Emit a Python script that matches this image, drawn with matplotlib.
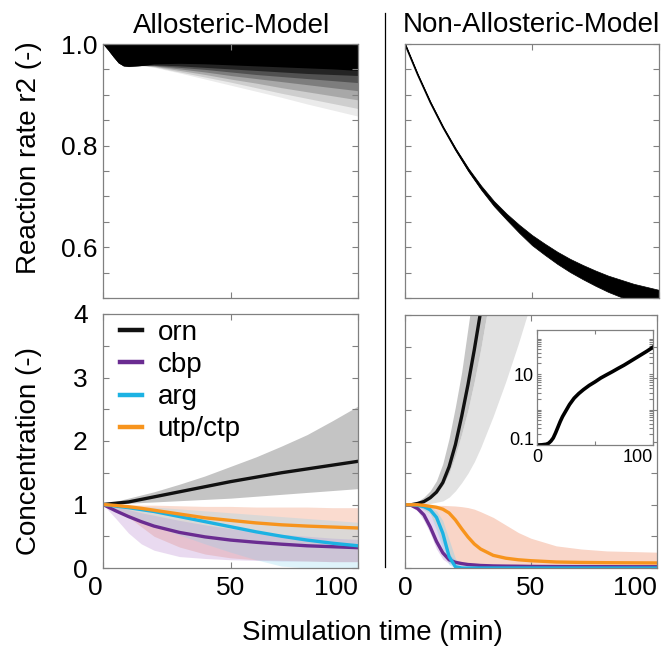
import matplotlib
matplotlib.use("Agg")
import matplotlib.pyplot as plt
from matplotlib.ticker import MultipleLocator, FixedLocator, NullFormatter

plt.rcParams['font.family'] = ['Liberation Sans', 'DejaVu Sans']

# ---------------- data ----------------
# Top-left: allosteric model reaction rate r2 ensemble (shade layers = lower envelopes; upper = 1.0)
t_tl = [0, 2, 4, 6, 8, 10, 13, 16, 20, 30, 40, 50, 60, 70, 80, 90, 100]
r2_allo_core = [1.0, 0.988, 0.975, 0.963, 0.957, 0.956, 0.957, 0.958, 0.961, 0.962, 0.961, 0.959, 0.957, 0.955, 0.953, 0.951, 0.948]
r2_allo_l1 = [1.0, 0.988, 0.975, 0.963, 0.957, 0.956, 0.957, 0.958, 0.959, 0.957, 0.954, 0.951, 0.948, 0.945, 0.942, 0.940, 0.938]
r2_allo_l2 = [1.0, 0.988, 0.975, 0.963, 0.957, 0.956, 0.957, 0.958, 0.958, 0.954, 0.950, 0.945, 0.940, 0.936, 0.932, 0.928, 0.924]
r2_allo_l3 = [1.0, 0.988, 0.975, 0.963, 0.957, 0.956, 0.957, 0.958, 0.957, 0.951, 0.945, 0.938, 0.932, 0.926, 0.920, 0.914, 0.908]
r2_allo_l4 = [1.0, 0.988, 0.975, 0.963, 0.957, 0.956, 0.957, 0.958, 0.956, 0.948, 0.940, 0.931, 0.923, 0.914, 0.906, 0.898, 0.890]
r2_allo_l5 = [1.0, 0.988, 0.975, 0.963, 0.957, 0.956, 0.957, 0.957, 0.955, 0.945, 0.935, 0.925, 0.914, 0.903, 0.893, 0.883, 0.873]
r2_allo_l6 = [1.0, 0.988, 0.975, 0.963, 0.957, 0.955, 0.956, 0.957, 0.954, 0.943, 0.931, 0.919, 0.907, 0.895, 0.882, 0.870, 0.858]
r2_allo_top = [1.0] * len(t_tl)

# Top-right: non-allosteric reaction rate r2 ensemble band
t_tr = [0, 5, 10, 15, 20, 25, 30, 35, 40, 45, 50, 55, 60, 65, 70, 75, 80, 85, 90, 95, 100]
r2_non_mid = [1.0, 0.94, 0.885, 0.836, 0.792, 0.752, 0.717, 0.686, 0.660, 0.636, 0.614, 0.596, 0.579, 0.564, 0.551, 0.539, 0.528, 0.519, 0.511, 0.504, 0.498]
r2_non_upper = [1.0, 0.94, 0.886, 0.837, 0.794, 0.755, 0.721, 0.691, 0.666, 0.644, 0.624, 0.607, 0.591, 0.577, 0.565, 0.554, 0.544, 0.536, 0.528, 0.522, 0.516]
r2_non_lower = [1.0, 0.94, 0.884, 0.835, 0.790, 0.749, 0.713, 0.681, 0.654, 0.628, 0.604, 0.585, 0.567, 0.551, 0.537, 0.524, 0.512, 0.502, 0.494, 0.486, 0.480]

# Bottom-left: allosteric concentrations
t_bl = [0, 5, 10, 15, 20, 30, 40, 50, 60, 70, 80, 90, 100]
orn_allo = [1.0, 1.02, 1.04, 1.08, 1.12, 1.20, 1.28, 1.36, 1.43, 1.50, 1.56, 1.62, 1.68]
orn_allo_hi = [1.0, 1.05, 1.10, 1.15, 1.20, 1.32, 1.45, 1.60, 1.75, 1.92, 2.10, 2.32, 2.55]
orn_allo_lo = [1.0, 1.01, 1.02, 1.03, 1.04, 1.06, 1.08, 1.10, 1.13, 1.16, 1.19, 1.22, 1.25]
cbp_allo = [1.0, 0.90, 0.81, 0.73, 0.66, 0.56, 0.49, 0.44, 0.405, 0.375, 0.35, 0.335, 0.32]
cbp_allo_hi = [1.0, 0.97, 0.92, 0.87, 0.83, 0.75, 0.68, 0.62, 0.57, 0.53, 0.50, 0.47, 0.45]
cbp_allo_lo = [1.0, 0.78, 0.55, 0.38, 0.28, 0.18, 0.15, 0.13, 0.12, 0.11, 0.11, 0.10, 0.10]
arg_allo = [1.0, 0.975, 0.95, 0.92, 0.89, 0.81, 0.73, 0.65, 0.57, 0.50, 0.44, 0.39, 0.35]
arg_allo_hi = [1.0, 0.99, 0.98, 0.97, 0.96, 0.93, 0.90, 0.87, 0.84, 0.81, 0.78, 0.75, 0.72]
arg_allo_lo = [1.0, 0.93, 0.85, 0.76, 0.67, 0.52, 0.38, 0.25, 0.13, 0.03, 0.0, 0.0, 0.0]
utp_allo = [1.0, 0.985, 0.965, 0.94, 0.91, 0.85, 0.79, 0.75, 0.71, 0.68, 0.66, 0.645, 0.63]
utp_allo_hi = [1.0, 1.0, 1.0, 0.99, 0.99, 0.98, 0.97, 0.97, 0.96, 0.96, 0.96, 0.95, 0.95]
utp_allo_lo = [1.0, 0.92, 0.80, 0.65, 0.50, 0.33, 0.22, 0.16, 0.13, 0.12, 0.11, 0.10, 0.10]

# Bottom-right: non-allosteric concentrations
t_br = [0, 2.5, 5, 7.5, 10, 12.5, 15, 17.5, 20, 22.5, 25, 27.5, 30, 35, 40, 45, 50, 60, 70, 80, 90, 100]
t_br_orn = [0, 2.5, 5, 7.5, 10, 12.5, 15, 17.5, 20, 22.5, 25, 27.5, 30, 32.5]
orn_non = [1.0, 1.0, 1.02, 1.05, 1.11, 1.20, 1.35, 1.60, 1.95, 2.40, 2.90, 3.45, 4.05, 4.70]
t_br_band = [0, 2.5, 5, 7.5, 10, 12.5, 15, 17.5, 20, 22.5, 25, 27.5, 30, 35, 40, 45, 50, 55]
orn_non_fast = [1.0, 1.01, 1.05, 1.12, 1.22, 1.38, 1.65, 2.05, 2.55, 3.10, 3.80, 4.50, 5.2, 6.5, 8.0, 9.0, 10.0, 11.0]
orn_non_mid = [1.0, 1.0, 1.02, 1.05, 1.10, 1.18, 1.30, 1.50, 1.78, 2.12, 2.50, 2.95, 3.45, 4.6, 6.0, 7.0, 8.0, 9.0]
orn_non_slow = [1.0, 1.0, 1.0, 1.01, 1.02, 1.04, 1.06, 1.12, 1.22, 1.35, 1.50, 1.68, 1.90, 2.40, 2.95, 3.55, 4.20, 5.0]
cbp_non = [1.0, 0.99, 0.94, 0.84, 0.65, 0.42, 0.24, 0.13, 0.09, 0.07, 0.055, 0.048, 0.04, 0.033, 0.03, 0.028, 0.025, 0.023, 0.022, 0.021, 0.02, 0.02]
cbp_non_hi = [1.0, 1.0, 0.98, 0.94, 0.84, 0.65, 0.42, 0.22, 0.12, 0.08, 0.065, 0.055, 0.05, 0.04, 0.035, 0.032, 0.03, 0.028, 0.026, 0.025, 0.024, 0.024]
cbp_non_lo = [1.0, 0.97, 0.90, 0.75, 0.55, 0.30, 0.14, 0.07, 0.05, 0.04, 0.035, 0.03, 0.028, 0.024, 0.022, 0.02, 0.018, 0.016, 0.015, 0.015, 0.015, 0.015]
arg_non = [1.0, 1.0, 0.99, 0.97, 0.92, 0.80, 0.55, 0.18, 0.02, 0.0, 0.0, 0.0, 0.0, 0.0, 0.0, 0.0, 0.0, 0.0, 0.0, 0.0, 0.0, 0.0]
arg_non_hi = [1.0, 1.0, 1.0, 0.99, 0.97, 0.90, 0.75, 0.45, 0.15, 0.04, 0.0, 0.0, 0.0, 0.0, 0.0, 0.0, 0.0, 0.0, 0.0, 0.0, 0.0, 0.0]
arg_non_lo = [1.0, 0.99, 0.96, 0.93, 0.85, 0.60, 0.30, 0.05, 0.0, 0.0, 0.0, 0.0, 0.0, 0.0, 0.0, 0.0, 0.0, 0.0, 0.0, 0.0, 0.0, 0.0]
utp_non = [1.0, 1.0, 1.0, 0.99, 0.975, 0.96, 0.93, 0.87, 0.76, 0.62, 0.49, 0.38, 0.30, 0.20, 0.155, 0.13, 0.115, 0.095, 0.088, 0.084, 0.082, 0.08]
utp_non_hi = [1.0, 1.0, 1.0, 1.0, 1.0, 0.99, 0.99, 0.985, 0.98, 0.97, 0.955, 0.93, 0.89, 0.80, 0.68, 0.56, 0.47, 0.35, 0.30, 0.27, 0.26, 0.25]
utp_non_lo = [1.0, 0.99, 0.97, 0.93, 0.85, 0.65, 0.40, 0.20, 0.10, 0.07, 0.05, 0.04, 0.035, 0.03, 0.028, 0.026, 0.025, 0.023, 0.022, 0.021, 0.02, 0.02]

# Inset: orn (log scale), non-allosteric
t_inset = [0, 4, 8, 10, 12, 14, 16, 18, 20, 22, 25, 28, 32, 36, 40, 45, 50, 55, 60, 65, 70, 75, 80, 85, 90, 95, 100]
orn_inset = [0.1, 0.101, 0.105, 0.112, 0.129, 0.158, 0.219, 0.316, 0.457, 0.631, 0.933, 1.38, 2.09, 2.82,
             3.63, 4.79, 6.03, 7.76, 9.55, 11.7, 14.5, 17.8, 22.4, 28.2, 35.5, 44.7, 57.5]

species = ['orn', 'cbp', 'arg', 'utp/ctp']
colors = {'orn': '#111111', 'cbp': '#6a2c91', 'arg': '#1cb2e3', 'utp/ctp': '#f7941d'}
band_colors = {'cbp': '#b887cf', 'arg': '#7fd0ee', 'utp/ctp': '#f2a283'}

x_ticks = [0, 50, 100]
x_ticklabels = ['0', '50', '100']
r2_ticks = [0.6, 0.8, 1.0]
r2_ticklabels = ['0.6', '0.8', '1.0']
conc_ticks = [0, 1, 2, 3, 4]
conc_ticklabels = ['0', '1', '2', '3', '4']
inset_yticks = [0.1, 1, 10, 100]
inset_yticklabels = ['0.1', '', '10', '']
inset_xticks = [0, 50, 100]
inset_xticklabels = ['0', '', '100']

# ---------------- figure ----------------
W, H = 670, 652
fig = plt.figure(figsize=(W / 100, H / 100), dpi=100)


def add_ax(x0, y0, x1, y1):
    return fig.add_axes([x0 / W, 1 - y1 / H, (x1 - x0) / W, (y1 - y0) / H])


GREY = '#808080'


def style(ax, size=19, length=4):
    for s in ax.spines.values():
        s.set_color(GREY)
        s.set_linewidth(0.9)
    ax.tick_params(which='both', direction='in', top=True, right=True,
                   color=GREY, length=length, width=0.8, labelsize=size)


ax_tl = add_ax(103, 44, 358, 298)
ax_tr = add_ax(405, 44, 659, 298)
ax_bl = add_ax(103, 314, 358, 568)
ax_br = add_ax(405, 315, 657, 568)

# top-left
for lower, a in [(r2_allo_l6, 0.08), (r2_allo_l5, 0.12), (r2_allo_l4, 0.18), (r2_allo_l3, 0.25),
                 (r2_allo_l2, 0.35), (r2_allo_l1, 0.55), (r2_allo_core, 1.0)]:
    ax_tl.fill_between(t_tl, lower, r2_allo_top, color='black', alpha=a, lw=0)

# top-right
ax_tr.fill_between(t_tr, r2_non_lower, r2_non_upper, color='black', lw=0.5)
ax_tr.plot(t_tr, r2_non_mid, color='black', lw=1.3)

for ax in (ax_tl, ax_tr):
    style(ax)
    ax.set_xlim(0, 100)
    ax.set_ylim(0.5, 1.0)
    ax.set_xticks(x_ticks)
    ax.set_xticklabels([])
    ax.yaxis.set_major_locator(FixedLocator(r2_ticks))
    ax.yaxis.set_minor_locator(MultipleLocator(0.05))
    ax.yaxis.set_minor_formatter(NullFormatter())
ax_tl.set_yticklabels(r2_ticklabels)
ax_tl.tick_params(axis='y', pad=4)
ax_tr.set_yticklabels([])

# bottom-left
ax_bl.fill_between(t_bl, orn_allo_lo, orn_allo_hi, color='#c4c4c4', lw=0)
ax_bl.fill_between(t_bl, utp_allo_lo, utp_allo_hi, color=band_colors['utp/ctp'], alpha=0.38, lw=0)
ax_bl.fill_between(t_bl, cbp_allo_lo, cbp_allo_hi, color=band_colors['cbp'], alpha=0.3, lw=0)
ax_bl.fill_between(t_bl, arg_allo_lo, arg_allo_hi, color=band_colors['arg'], alpha=0.25, lw=0)
lw = 2.4
ax_bl.plot(t_bl, orn_allo, color=colors['orn'], lw=lw, label=species[0])
ax_bl.plot(t_bl, cbp_allo, color=colors['cbp'], lw=lw, label=species[1])
ax_bl.plot(t_bl, arg_allo, color=colors['arg'], lw=lw, label=species[2])
ax_bl.plot(t_bl, utp_allo, color=colors['utp/ctp'], lw=lw, label=species[3])

# bottom-right
ax_br.fill_between(t_br_band, orn_non_mid, orn_non_slow, color='#e2e2e2', lw=0)
ax_br.fill_between(t_br_band, orn_non_fast, orn_non_mid, color='#c6c6c6', lw=0)
ax_br.fill_between(t_br, utp_non_lo, utp_non_hi, color=band_colors['utp/ctp'], alpha=0.45, lw=0)
ax_br.fill_between(t_br, cbp_non_lo, cbp_non_hi, color=band_colors['cbp'], alpha=0.35, lw=0)
ax_br.fill_between(t_br, arg_non_lo, arg_non_hi, color=band_colors['arg'], alpha=0.35, lw=0)
ax_br.plot(t_br_orn, orn_non, color=colors['orn'], lw=lw)
ax_br.plot(t_br, cbp_non, color=colors['cbp'], lw=lw)
ax_br.plot(t_br, arg_non, color=colors['arg'], lw=lw)
ax_br.plot(t_br, utp_non, color=colors['utp/ctp'], lw=lw)

for ax in (ax_bl, ax_br):
    style(ax)
    ax.set_xlim(0, 100)
    ax.set_ylim(0, 4)
    ax.yaxis.set_major_locator(FixedLocator(conc_ticks))
    ax.yaxis.set_minor_locator(MultipleLocator(0.5))
    ax.yaxis.set_minor_formatter(NullFormatter())
    ax.set_xticks(x_ticks)
    ax.set_xticklabels(x_ticklabels)
    ax.tick_params(axis='x', pad=6)
    labs = ax.get_xticklabels()
    labs[-1].set_horizontalalignment('right')
ax_bl.get_xticklabels()[0].set_horizontalalignment('right')
ax_bl.set_yticklabels(conc_ticklabels)
ax_bl.tick_params(axis='y', pad=11)
ax_br.set_yticklabels([])

leg = ax_bl.legend(loc='upper left', bbox_to_anchor=(120 / W, 1 - 320 / H),
                   bbox_transform=fig.transFigure, frameon=False, fontsize=20,
                   handlelength=0.8, handletextpad=0.55, labelspacing=0.22,
                   borderaxespad=0, borderpad=0)
for h in leg.get_lines():
    h.set_linewidth(3.2)

# inset
ax_in = add_ax(537, 330, 653, 445)
ax_in.plot(t_inset, orn_inset, color='black', lw=2.6)
ax_in.set_yscale('log')
ax_in.set_xlim(0, 100)
ax_in.set_ylim(0.1, 175)
style(ax_in, size=13, length=3)
ax_in.set_yticks(inset_yticks)
ax_in.set_yticklabels(inset_yticklabels)
ax_in.yaxis.set_minor_formatter(NullFormatter())
ax_in.set_xticks(inset_xticks)
ax_in.set_xticklabels(inset_xticklabels)
ax_in.tick_params(axis='x', pad=3)
ax_in.tick_params(axis='y', pad=2)
ax_in.get_xticklabels()[-1].set_horizontalalignment('right')
ax_in.get_yticklabels()[0].set_verticalalignment('baseline')

# separators and text
fig.add_artist(plt.Line2D([385 / W, 385 / W], [1 - 13 / H, 1 - 567 / H],
                          transform=fig.transFigure, color='black', lw=0.9))
fig.text(232 / W, 1 - 26 / H, 'Allosteric-Model', ha='center', va='center', fontsize=20)
fig.text(531 / W, 1 - 25 / H, 'Non-Allosteric-Model', ha='center', va='center', fontsize=20)
fig.text(29 / W, 1 - 158 / H, 'Reaction rate r2 (-)', ha='center', va='center', rotation=90, fontsize=20)
fig.text(29 / W, 1 - 451 / H, 'Concentration (-)', ha='center', va='center', rotation=90, fontsize=20)
fig.text(372 / W, 1 - 633 / H, 'Simulation time (min)', ha='center', va='center', fontsize=20)

fig.savefig('out.png', dpi=100)
